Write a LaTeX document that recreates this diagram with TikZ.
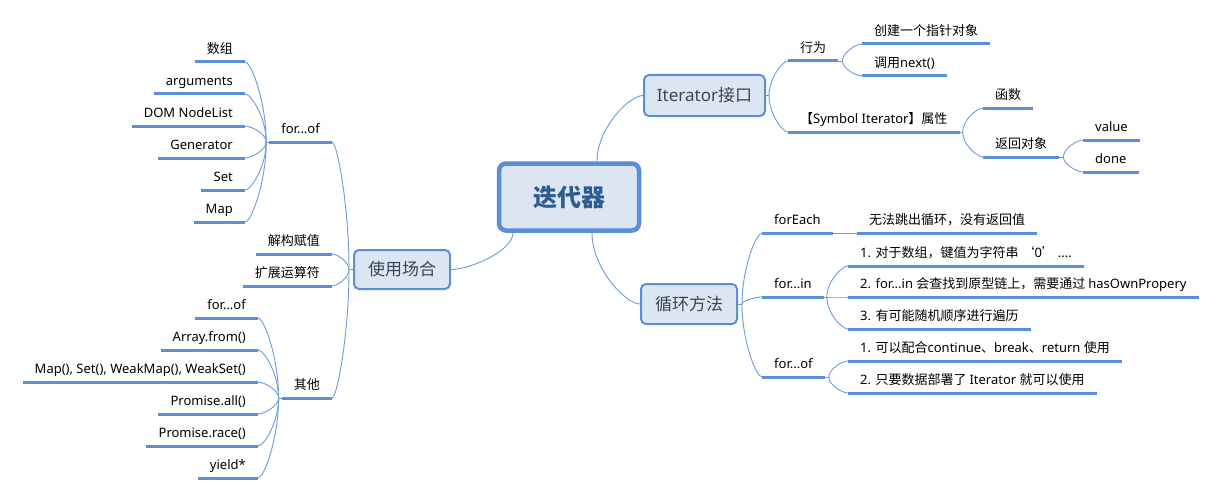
\documentclass[tikz,border=0pt]{standalone}
\usepackage{fontspec}
\usetikzlibrary{calc}
\setmainfont{Noto Sans}
\newfontfamily\cjkf{Noto Sans CJK SC}
\newfontfamily\latf{Noto Sans}
\newXeTeXintercharclass\cjkcls
\def\setcls#1#2{\count255=#1\relax
  \loop\XeTeXcharclass\count255=\cjkcls\relax
  \ifnum\count255<#2\relax\advance\count255 by 1\relax\repeat}
\setcls{"2018}{"2019}
\setcls{"3000}{"303F}
\setcls{"4E00}{"9FFF}
\setcls{"FF00}{"FFEF}
\XeTeXinterchartokenstate=1
\XeTeXinterchartoks 0 \cjkcls = {\cjkf}
\XeTeXinterchartoks 4095 \cjkcls = {\cjkf}
\XeTeXinterchartoks \cjkcls 0 = {\latf}
\XeTeXinterchartoks 4095 0 = {\latf}
\definecolor{ucol}{HTML}{5B8FD7}
\definecolor{lcol}{HTML}{6C9BDA}
\definecolor{bcol}{HTML}{5A8ED6}
\definecolor{fcol}{HTML}{DCE6F2}
\definecolor{ctxt}{HTML}{2E5C8F}
\definecolor{btxt}{HTML}{38465A}
% curve from hub #1 to child end #2
\newcommand\cc[2]{\path (#1 |- #2) coordinate (tmpQ);
  \draw[conn] (#1) .. controls ($(#1)!0.5!(tmpQ)$) and ($(#2)!0.3!(tmpQ)$) .. (#2);}
\begin{document}
\begin{tikzpicture}[x=1pt,y=-1pt,
  conn/.style={draw=lcol, line width=0.9pt},
  uline/.style={draw=ucol, line width=3pt},
  leaf/.style={inner xsep=12pt, inner ysep=5pt, text depth=3pt, text height=10pt,
    font=\fontsize{13}{15}\selectfont, text=black,
    append after command={(\tikzlastnode.south west) edge[uline] (\tikzlastnode.south east)}},
  mainbox/.style={draw=bcol, fill=fcol, line width=2pt, rounded corners=5pt,
    font=\fontsize{17}{20}\selectfont, text=btxt, inner sep=0pt},
  centralbox/.style={draw=bcol, fill=fcol, line width=4.5pt, rounded corners=7pt,
    font=\bfseries\fontsize{24}{28}\selectfont, text=ctxt, inner sep=0pt,
    minimum width=140pt, minimum height=67pt},
]
\useasboundingbox (0,0) rectangle (1216,495);

% main boxes
\node[centralbox] (c) at (569,197) {迭代器};
\node[mainbox, minimum width=121pt, minimum height=41pt] (it) at (704.5,95.5) {Iterator接口};
\node[mainbox, minimum width=96pt, minimum height=40pt] (loop) at (689,304) {循环方法};
\node[mainbox, minimum width=96pt, minimum height=39pt] (use) at (402,269.5) {使用场合};

\coordinate (c1) at ($(c.north)+(28,0)$);
\coordinate (c2) at ($(c.south)+(23,0)$);
\coordinate (c3) at ($(c.south)+(-56,0)$);
\cc{c1}{it.west}
\cc{c2}{loop.west}
\cc{c3}{use.east}

% hubs of the main boxes
\coordinate (uh) at ($(use.west)+(-4,0)$);
\coordinate (ih) at ($(it.east)+(3,0)$);
\coordinate (lh) at ($(loop.east)+(4,0)$);
\draw[conn] (use.west) -- (uh);
\draw[conn] (it.east) -- (ih);
\draw[conn] (loop.east) -- (lh);

% left side
\node[leaf, anchor=south east] (lf) at (332,142) {for...of};
\node[leaf, anchor=south east] (ja) at (332,254) {解构赋值};
\node[leaf, anchor=south east] (kz) at (332,286) {扩展运算符};
\node[leaf, anchor=south east] (qt) at (332,398) {其他};
\foreach \n in {lf,ja,kz,qt} {\cc{uh}{\n.south east}}

\coordinate (lfh) at ($(lf.south west)+(-3,0)$);
\coordinate (qth) at ($(qt.south west)+(-3,0)$);
\draw[conn] (lf.south west) -- (lfh);
\draw[conn] (qt.south west) -- (qth);

\node[leaf, anchor=south east] (l1) at (245,62) {数组};
\node[leaf, anchor=south east] (l2) at (245,94) {arguments};
\node[leaf, anchor=south east] (l3) at (245,126) {DOM NodeList};
\node[leaf, anchor=south east] (l4) at (245,158) {Generator};
\node[leaf, anchor=south east] (l5) at (245,190) {Set};
\node[leaf, anchor=south east] (l6) at (245,222) {Map};
\foreach \n in {l1,l2,l3,l4,l5,l6} {\cc{lfh}{\n.south east}}

\node[leaf, anchor=south east] (o1) at (258,318) {for...of};
\node[leaf, anchor=south east] (o2) at (258,350) {Array.from()};
\node[leaf, anchor=south east] (o3) at (258,382) {Map(), Set(), WeakMap(), WeakSet()};
\node[leaf, anchor=south east] (o4) at (258,414) {Promise.all()};
\node[leaf, anchor=south east] (o5) at (258,446) {Promise.race()};
\node[leaf, anchor=south east] (o6) at (258,478) {yield*};
\foreach \n in {o1,o2,o3,o4,o5,o6} {\cc{qth}{\n.south east}}

% right side: Iterator
\node[leaf, anchor=south west] (xw) at (788,61) {行为};
\node[leaf, anchor=south west] (sy) at (788,132) {【Symbol Iterator】属性};
\cc{ih}{xw.south west}
\cc{ih}{sy.south west}
\coordinate (xwh) at ($(xw.south east)+(4,0)$);
\coordinate (syh) at ($(sy.south east)+(3,0)$);
\draw[conn] (xw.south east) -- (xwh);
\draw[conn] (sy.south east) -- (syh);
\node[leaf, anchor=south west] (cj) at (862,44) {创建一个指针对象};
\node[leaf, anchor=south west] (dy) at (862,76) {调用next()};
\cc{xwh}{cj.south west}
\cc{xwh}{dy.south west}
\node[leaf, anchor=south west] (hs) at (983,108) {函数};
\node[leaf, anchor=south west] (fh) at (983,157) {返回对象};
\cc{syh}{hs.south west}
\cc{syh}{fh.south west}
\coordinate (fhh) at ($(fh.south east)+(4,0)$);
\draw[conn] (fh.south east) -- (fhh);
\node[leaf, anchor=south west] (va) at (1083,140) {value};
\node[leaf, anchor=south west] (dn) at (1083,172) {done};
\cc{fhh}{va.south west}
\cc{fhh}{dn.south west}

% right side: loops
\node[leaf, anchor=south west] (fe) at (762,233) {forEach};
\node[leaf, anchor=south west] (fi) at (762,297) {for...in};
\node[leaf, anchor=south west] (fo) at (762,377) {for...of};
\foreach \n in {fe,fi,fo} {\cc{lh}{\n.south west}}
\node[leaf, anchor=south west] (wf) at (857,233) {无法跳出循环，没有返回值};
\draw[conn] (fe.south east) -- (wf.south west);
\coordinate (fih) at ($(fi.south east)+(3,0)$);
\coordinate (foh) at ($(fo.south east)+(4,0)$);
\draw[conn] (fi.south east) -- (fih);
\draw[conn] (fo.south east) -- (foh);
\node[leaf, anchor=south west] (fi1) at (848,266) {1. 对于数组，键值为字符串 ‘0’ ....};
\node[leaf, anchor=south west] (fi2) at (848,297) {2. for...in 会查找到原型链上，需要通过 hasOwnPropery};
\node[leaf, anchor=south west] (fi3) at (848,329) {3. 有可能随机顺序进行遍历};
\foreach \n in {fi1,fi2,fi3} {\cc{fih}{\n.south west}}
\node[leaf, anchor=south west] (fo1) at (848,361) {1. 可以配合continue、break、return 使用};
\node[leaf, anchor=south west] (fo2) at (848,393) {2. 只要数据部署了 Iterator 就可以使用};
\foreach \n in {fo1,fo2} {\cc{foh}{\n.south west}}
\end{tikzpicture}
\end{document}
